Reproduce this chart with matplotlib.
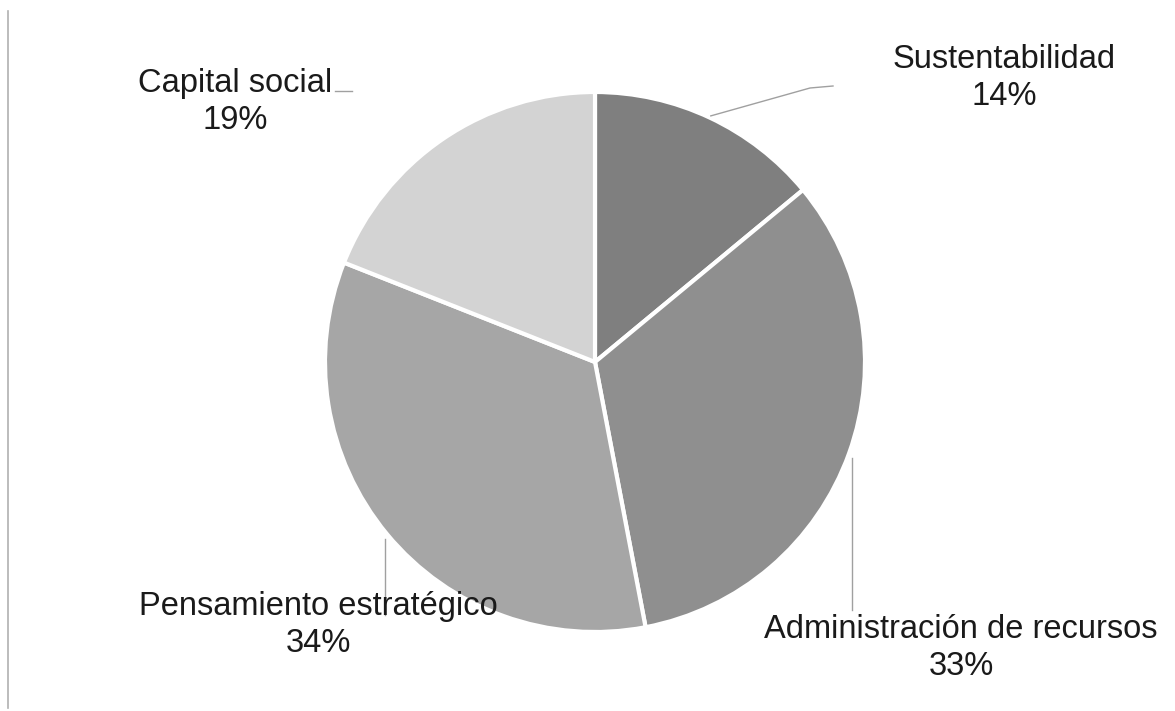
import numpy as np
import matplotlib
matplotlib.use("Agg")
import matplotlib.pyplot as plt
from matplotlib.lines import Line2D

plt.rcParams['font.family'] = ['Liberation Sans', 'DejaVu Sans']

# Data
categories = ["Sustentabilidad", "Administración de recursos",
              "Pensamiento estratégico", "Capital social"]
values = [14, 33, 34, 19]
colors = ["#7f7f7f", "#8f8f8f", "#a6a6a6", "#d3d3d3"]

W, H = 1175, 711
fig = plt.figure(figsize=(W / 100, H / 100), dpi=100)
ax = fig.add_axes([0, 0, 1, 1])

cx, cy, R = 595, H - 362, 270

wedges, _ = ax.pie(values, colors=colors, startangle=90, counterclock=False,
                   center=(cx, cy), radius=R, frame=True,
                   wedgeprops=dict(edgecolor='white', linewidth=3))
ax.set_xlim(0, W)
ax.set_ylim(0, H)
ax.set_aspect('equal')
ax.axis('off')

# label block centres (pixels from top) and leader-line paths after the rim point
label_pos = {
    "Sustentabilidad": (1004, 78),
    "Administración de recursos": (961, 648),
    "Pensamiento estratégico": (318, 625),
    "Capital social": (235, 102),
}
leader_tail = {
    "Sustentabilidad": [(810, 88), (833, 86)],
    "Administración de recursos": [(852, 610)],
    "Pensamiento estratégico": [(385, 615)],
    "Capital social": None,
}

for w, name, v in zip(wedges, categories, values):
    lx, ly = label_pos[name]
    ax.text(lx, H - ly, f"{name}\n{v}%", ha='center', va='center',
            fontsize=23.5, color='#1a1a1a', linespacing=1.25)
    theta = np.deg2rad((w.theta1 + w.theta2) / 2)
    sx, sy = cx + (R + 2) * np.cos(theta), cy + (R + 2) * np.sin(theta)
    tail = leader_tail[name]
    if tail is None:
        continue
    xs = [sx] + [p[0] for p in tail]
    ys = [sy] + [H - p[1] for p in tail]
    if name in ("Administración de recursos", "Pensamiento estratégico"):
        xs = [tail[0][0], tail[0][0]]
        ys = [sy - 4, H - tail[0][1]]
    ax.add_line(Line2D(xs, ys, color='#a0a0a0', linewidth=1.0))

# short stub beside the "Capital social" label
ax.add_line(Line2D([335, 352], [H - 91, H - 91], color='#a0a0a0', linewidth=1.0))

# left frame edge
fig.add_artist(Line2D([7.5 / W, 7.5 / W], [1 - 11 / H, 1 - 708 / H],
                      transform=fig.transFigure, color='#b0b0b0', linewidth=1.2))

fig.savefig("out.png", dpi=100, facecolor='white')
